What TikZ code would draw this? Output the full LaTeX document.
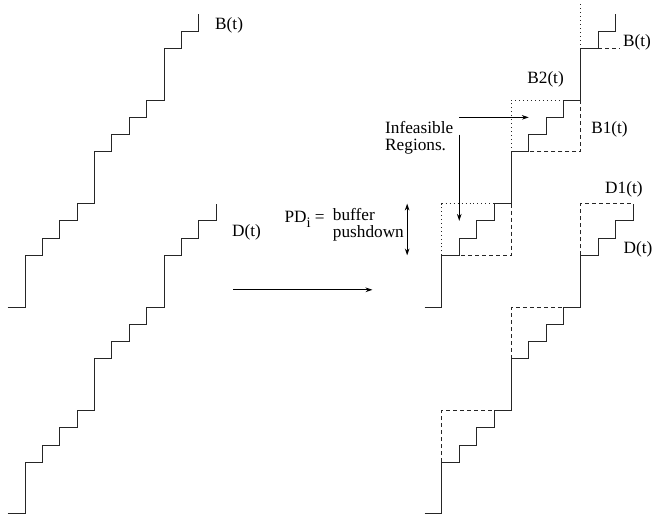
\documentclass[tikz,border=0pt]{standalone}
\usepackage{fontspec}
\setmainfont{Liberation Serif}
\usetikzlibrary{arrows.meta}

\begin{document}
\begin{tikzpicture}[
  x=0.4cm, y=0.397cm,
  >={Stealth[length=4.5pt,width=3pt]}, font=\fontsize{11.3}{11.2}\selectfont,
  stair/.style={line width=0.6pt, black!85},
  bound/.style={line width=0.6pt, black!85, dash pattern=on 2.6pt off 2pt},
  infeas/.style={line width=0.6pt, black!85, dotted},
  lbl/.style={inner sep=0pt},
  flow/.style={->, line width=0.6pt},
]
  \useasboundingbox (-1.44,-0.1) rectangle (36.5,29.81);
  % left: the two curves before pushdown
  \draw[stair] (-1,12) -- (0,12) |- (1,15) |- (2,16) |- (3,17) |- (4,18) |- (5,21) |- (6,22) |- (7,23) |- (8,24) |- (9,27) |- (10,28) -- (10,29);
  \draw[stair] (-1,0) -- (0,0) |- (1,3) |- (2,4) |- (3,5) |- (4,6) |- (5,9) |- (6,10) |- (7,11) |- (8,12) |- (9,15) |- (10,16) |- (11,17) -- (11,18);
  \node[lbl] (bl) at (11.75,28.33) {B(t)};
  \node[lbl] (dl) at (12.75,16.31) {D(t)};
  % middle
  \coordinate (from) at (12,13);
  \coordinate (to) at (20,13);
  \draw[flow] (from) -- (to);
  \node[lbl, anchor=base east] (pd) at (17.27,16.93) {PD\raisebox{-3.8pt}{\fontsize{9.5}{9}\selectfont i} =};
  \node[lbl, anchor=west, align=left] (buf) at (17.71,16.77) {buffer\\pushdown};
  \coordinate (pdtop) at (22,18);
  \coordinate (pdbot) at (22,15);
  \draw[<->, line width=0.6pt] (pdtop) -- (pdbot);
  \node[lbl, anchor=west, align=left] (infeas) at (20.72,21.8) {Infeasible\\Regions.};
  \coordinate (ha) at (25,23);
  \coordinate (hb) at (29,23);
  \coordinate (va) at (25,22);
  \coordinate (vb) at (25,17);
  \draw[flow] (ha) -- (hb);
  \draw[flow] (va) -- (vb);
  % right: the same curves with the regions marked
  \draw[stair, xshift=9.6cm] (-1,12) -- (0,12) |- (1,15) |- (2,16) |- (3,17) |- (4,18) |- (5,21) |- (6,22) |- (7,23) |- (8,24) |- (9,27) |- (10,28) -- (10,29);
  \draw[stair, xshift=9.6cm] (-1,0) -- (0,0) |- (1,3) |- (2,4) |- (3,5) |- (4,6) |- (5,9) |- (6,10) |- (7,11) |- (8,12) |- (9,15) |- (10,16) |- (11,17) -- (11,18);
  \draw[infeas] (24,15) -- (24,18) -- (27,18);
  \draw[bound] (28,18) -- (28,15) -- (25,15);
  \draw[infeas] (28,21) -- (28,24) -- (31,24);
  \draw[bound] (32,24) -- (32,21) -- (29,21);
  \draw[infeas] (32,27) -- (32,29.6);
  \draw[bound] (33,27) -- (34.25,27);
  \draw[bound] (24,3) -- (24,6) -- (27,6);
  \draw[bound] (28,9) -- (28,12) -- (31,12);
  \draw[bound] (32,15) -- (32,18) -- (35,18);
  \node[lbl] (br) at (35.23,27.33) {B(t)};
  \node[lbl] (b2) at (29.97,25.19) {B2(t)};
  \node[lbl] (b1) at (33.65,22.28) {B1(t)};
  \node[lbl] (d1) at (34.48,18.8) {D1(t)};
  \node[lbl] (dr) at (35.29,15.32) {D(t)};
\end{tikzpicture}
\end{document}
